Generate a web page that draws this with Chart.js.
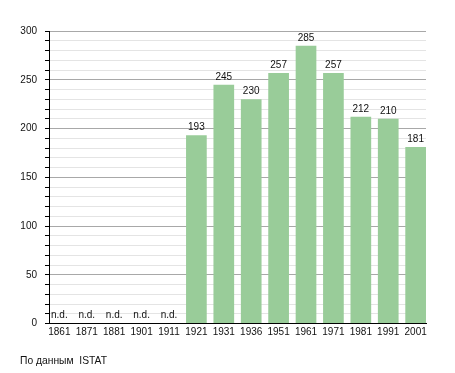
<!DOCTYPE html>
<html>
<head>
<meta charset="utf-8">
<script src="https://cdn.jsdelivr.net/npm/chart.js@4.4.0/dist/chart.umd.min.js"></script>
<style>
    body { margin: 0; background: #fff; }
    #wrap { position: relative; width: 455px; height: 373px; }
    #note {
        position: absolute; left: 20px; top: 355px;
        font: 10.3px "Liberation Sans", Arial, sans-serif; color: #111;
        white-space: pre;
    }
</style>
</head>
<body>
<div id="wrap">
    <canvas id="ChartPopulation" width="455" height="373"></canvas>
    <div id="note">По данным  ISTAT</div>
</div>
<script>
// Data (null = n.d.)
const years = ['1861', '1871', '1881', '1901', '1911', '1921', '1931', '1936', '1951', '1961', '1971', '1981', '1991', '2001'];
const population = [null, null, null, null, null, 193, 245, 230, 257, 285, 257, 212, 210, 181];
const yTicks = [0, 50, 100, 150, 200, 250, 300];

const fontFamily = '"Liberation Sans", Arial, sans-serif';

// Plugin drawing the values above the bars and "n.d." for missing years
const valueLabels = {
    id: 'valueLabels',
    afterDatasetsDraw(chart) {
        const ctx = chart.ctx;
        const xs = chart.scales.x;
        const ys = chart.scales.y;
        ctx.save();
        ctx.font = '10px ' + fontFamily;
        ctx.fillStyle = '#111';
        ctx.textAlign = 'center';
        ctx.textBaseline = 'alphabetic';
        population.forEach((v, i) => {
            const x = xs.getPixelForValue(i);
            if (v === null) {
                ctx.fillText('n.d.', x, ys.getPixelForValue(0) - 6);
            } else {
                ctx.fillText(String(v), x, ys.getPixelForValue(v) - 5);
            }
        });
        ctx.restore();
    }
};

new Chart(document.getElementById('ChartPopulation'), {
    type: 'bar',
    data: {
        datasets: [{
            data: population.map((v, i) => ({ x: i, y: v })),
            backgroundColor: '#99cc99',
            borderWidth: 0,
            barPercentage: 0.755,
            categoryPercentage: 1
        }]
    },
    options: {
        responsive: false,
        animation: false,
        layout: { padding: { top: 31, right: 29, bottom: 29.5, left: 0 } },
        plugins: {
            legend: { display: false },
            tooltip: { enabled: false },
            title: { display: false }
        },
        scales: {
            x: {
                type: 'linear',
                offset: false,
                min: -0.378,
                max: 13.378,
                afterBuildTicks: scale => {
                    scale.ticks = years.map((_, i) => ({ value: i }));
                },
                afterFit: scale => { scale.height = 20; },
                grid: { display: false, drawTicks: false },
                border: { display: true, color: '#000', width: 1 },
                ticks: {
                    autoSkip: false,
                    maxRotation: 0,
                    padding: 3,
                    color: '#111',
                    font: { size: 10, family: fontFamily },
                    callback: value => years[value]
                }
            },
            y: {
                min: 0,
                max: 300,
                afterFit: scale => { scale.width = 49; },
                grid: {
                    color: c => (c.tick.value % 50 === 0 ? '#a8a8a8' : '#e4e4e4'),
                    tickColor: '#000',
                    tickLength: 4,
                    lineWidth: 1
                },
                border: { display: true, color: '#000', width: 1 },
                ticks: {
                    stepSize: 10,
                    autoSkip: false,
                    padding: 8,
                    color: '#111',
                    font: { size: 10, family: fontFamily },
                    callback: value => (yTicks.includes(value) ? value : '')
                }
            }
        }
    },
    plugins: [valueLabels]
});
</script>
</body>
</html>
